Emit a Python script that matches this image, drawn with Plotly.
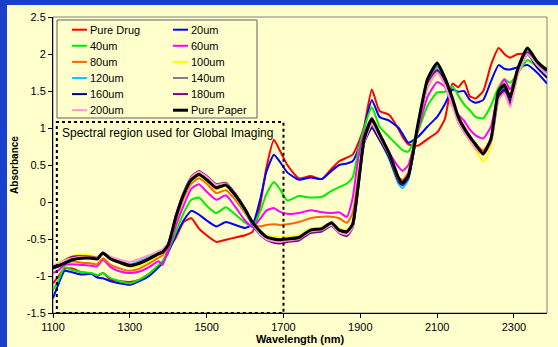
import plotly.graph_objects as go

# ---------------- data ----------------
wavelength = [1100, 1115, 1130, 1150, 1175, 1200, 1215, 1230, 1250, 1275,
              1300, 1325, 1350, 1375, 1385, 1400, 1420, 1440, 1460, 1480,
              1500, 1525, 1550, 1575, 1600, 1620, 1640, 1655, 1675, 1690,
              1710, 1740, 1770, 1800, 1825, 1845, 1865, 1880, 1895, 1910,
              1930, 1950, 1975, 2000, 2010, 2025, 2050, 2075, 2100, 2120,
              2140, 2155, 2170, 2185, 2200, 2220, 2240, 2260, 2275, 2290,
              2310, 2335, 2360, 2386]

pure_drug = [-1.10, -1.00, -0.90, -0.90, -0.95, -0.97, -1.00, -0.96, -1.05, -1.07,
             -1.08, -1.05, -0.97, -0.87, -0.82, -0.65, -0.48, -0.27, -0.22, -0.36,
             -0.45, -0.54, -0.51, -0.48, -0.45, -0.40, -0.02, 0.45, 0.84, 0.70,
             0.50, 0.32, 0.35, 0.31, 0.45, 0.55, 0.60, 0.64, 0.80, 1.02,
             1.52, 1.23, 1.18, 0.98, 0.88, 0.78, 0.76, 0.85, 0.94, 1.12,
             1.60, 1.55, 1.64, 1.43, 1.40, 1.50, 1.85, 2.08, 2.00, 1.95,
             2.00, 2.00, 1.88, 1.80]

um20 = [-1.30, -1.10, -0.93, -0.95, -0.98, -0.97, -1.02, -1.03, -1.07, -1.10,
        -1.12, -1.07, -1.00, -0.88, -0.82, -0.68, -0.45, -0.25, -0.12, -0.17,
        -0.25, -0.33, -0.27, -0.31, -0.35, -0.30, 0.05, 0.40, 0.64, 0.55,
        0.40, 0.30, 0.33, 0.31, 0.42, 0.50, 0.52, 0.55, 0.72, 1.00,
        1.38, 1.15, 1.10, 1.00, 0.92, 0.80, 0.88, 1.02, 1.15, 1.32,
        1.52, 1.49, 1.50, 1.38, 1.34, 1.38, 1.63, 1.85, 1.80, 1.79,
        1.82, 1.85, 1.75, 1.60]

um40 = [-1.19, -1.05, -0.88, -0.92, -0.95, -0.96, -0.99, -0.96, -1.03, -1.07,
        -1.10, -1.05, -0.97, -0.85, -0.80, -0.66, -0.40, -0.15, 0.03, 0.06,
        -0.05, -0.15, -0.07, -0.17, -0.28, -0.33, -0.12, 0.10, 0.27, 0.18,
        0.02, 0.08, 0.06, 0.07, 0.15, 0.20, 0.25, 0.33, 0.70, 1.00,
        1.28, 1.02, 0.88, 0.75, 0.70, 0.68, 0.95, 1.30, 1.48, 1.49,
        1.56, 1.44, 1.32, 1.24, 1.15, 1.13, 1.30, 1.55, 1.66, 1.61,
        1.74, 1.92, 1.83, 1.72]

um60 = [-0.96, -0.92, -0.85, -0.84, -0.85, -0.86, -0.87, -0.78, -0.88, -0.94,
        -0.96, -0.94, -0.88, -0.80, -0.85, -0.65, -0.32, -0.05, 0.18, 0.24,
        0.14, 0.03, 0.09, -0.07, -0.25, -0.34, -0.22, -0.12, -0.08, -0.13,
        -0.16, -0.15, -0.11, -0.14, -0.15, -0.14, -0.20, 0.05, 0.60, 0.92,
        1.14, 0.90, 0.67, 0.47, 0.42, 0.50, 0.97, 1.42, 1.62, 1.56,
        1.30, 1.18, 1.10, 0.98, 0.90, 0.86, 1.02, 1.50, 1.66, 1.52,
        1.80, 2.00, 1.88, 1.74]

um80 = [-0.90, -0.87, -0.82, -0.80, -0.82, -0.83, -0.84, -0.76, -0.85, -0.90,
        -0.93, -0.90, -0.83, -0.75, -0.72, -0.60, -0.25, 0.05, 0.25, 0.32,
        0.25, 0.12, 0.16, 0.03, -0.15, -0.30, -0.33, -0.31, -0.30, -0.31,
        -0.30, -0.27, -0.22, -0.20, -0.20, -0.22, -0.28, -0.15, 0.35, 0.85,
        1.08, 0.90, 0.62, 0.33, 0.30, 0.40, 1.05, 1.55, 1.75, 1.62,
        1.35, 1.15, 1.02, 0.90, 0.78, 0.70, 0.85, 1.50, 1.60, 1.42,
        1.82, 2.03, 1.90, 1.76]

um100 = [-0.87, -0.82, -0.78, -0.73, -0.71, -0.72, -0.74, -0.68, -0.76, -0.83,
         -0.88, -0.86, -0.80, -0.72, -0.69, -0.58, -0.22, 0.08, 0.28, 0.35,
         0.28, 0.17, 0.21, 0.07, -0.12, -0.30, -0.40, -0.45, -0.47, -0.48,
         -0.47, -0.45, -0.36, -0.34, -0.27, -0.36, -0.38, -0.28, 0.30, 0.85,
         1.08, 0.88, 0.63, 0.30, 0.27, 0.38, 1.05, 1.60, 1.80, 1.65,
         1.36, 1.10, 0.95, 0.82, 0.70, 0.55, 0.75, 1.45, 1.55, 1.40,
         1.78, 2.05, 1.88, 1.76]

um120 = [-0.90, -0.86, -0.82, -0.78, -0.75, -0.76, -0.76, -0.70, -0.76, -0.80,
         -0.84, -0.80, -0.74, -0.68, -0.66, -0.56, -0.20, 0.10, 0.30, 0.38,
         0.31, 0.20, 0.23, 0.08, -0.12, -0.32, -0.45, -0.50, -0.53, -0.54,
         -0.52, -0.50, -0.40, -0.38, -0.30, -0.40, -0.44, -0.34, 0.20, 0.80,
         1.02, 0.84, 0.58, 0.24, 0.19, 0.30, 1.00, 1.60, 1.82, 1.64,
         1.36, 1.12, 0.98, 0.86, 0.76, 0.66, 0.84, 1.45, 1.55, 1.38,
         1.78, 2.05, 1.88, 1.75]

um140 = [-0.88, -0.85, -0.80, -0.77, -0.74, -0.75, -0.76, -0.69, -0.76, -0.81,
         -0.85, -0.82, -0.76, -0.69, -0.67, -0.57, -0.20, 0.10, 0.31, 0.39,
         0.32, 0.21, 0.24, 0.10, -0.10, -0.30, -0.43, -0.49, -0.52, -0.53,
         -0.51, -0.49, -0.39, -0.37, -0.29, -0.39, -0.42, -0.32, 0.25, 0.82,
         1.08, 0.90, 0.64, 0.30, 0.25, 0.34, 1.03, 1.62, 1.84, 1.66,
         1.38, 1.13, 0.99, 0.87, 0.77, 0.66, 0.84, 1.47, 1.56, 1.40,
         1.79, 2.06, 1.89, 1.77]

um160 = [-0.90, -0.87, -0.82, -0.78, -0.75, -0.75, -0.76, -0.70, -0.77, -0.82,
         -0.86, -0.83, -0.77, -0.70, -0.68, -0.58, -0.20, 0.11, 0.32, 0.40,
         0.33, 0.22, 0.25, 0.10, -0.10, -0.31, -0.44, -0.50, -0.53, -0.54,
         -0.52, -0.50, -0.40, -0.38, -0.30, -0.40, -0.43, -0.33, 0.22, 0.80,
         1.00, 0.84, 0.60, 0.27, 0.23, 0.33, 1.00, 1.58, 1.78, 1.62,
         1.35, 1.10, 0.97, 0.85, 0.75, 0.66, 0.83, 1.42, 1.52, 1.36,
         1.74, 2.00, 1.82, 1.68]

um180 = [-0.88, -0.84, -0.79, -0.74, -0.73, -0.74, -0.75, -0.69, -0.76, -0.81,
         -0.85, -0.82, -0.76, -0.69, -0.67, -0.57, -0.18, 0.13, 0.34, 0.42,
         0.35, 0.24, 0.26, 0.11, -0.09, -0.30, -0.44, -0.51, -0.55, -0.56,
         -0.54, -0.52, -0.42, -0.40, -0.32, -0.42, -0.46, -0.35, 0.20, 0.80,
         1.04, 0.86, 0.62, 0.28, 0.24, 0.33, 1.00, 1.58, 1.78, 1.60,
         1.32, 1.08, 0.95, 0.84, 0.74, 0.66, 0.82, 1.40, 1.50, 1.32,
         1.75, 2.02, 1.86, 1.72]

um200 = [-0.86, -0.83, -0.79, -0.76, -0.74, -0.75, -0.75, -0.68, -0.74, -0.78,
         -0.81, -0.77, -0.72, -0.66, -0.64, -0.55, -0.18, 0.12, 0.33, 0.41,
         0.34, 0.23, 0.25, 0.10, -0.10, -0.30, -0.44, -0.50, -0.53, -0.54,
         -0.52, -0.50, -0.40, -0.38, -0.31, -0.41, -0.44, -0.34, 0.22, 0.80,
         1.05, 0.88, 0.64, 0.30, 0.27, 0.36, 1.00, 1.56, 1.75, 1.58,
         1.30, 1.08, 0.95, 0.83, 0.72, 0.64, 0.80, 1.38, 1.47, 1.28,
         1.72, 2.00, 1.85, 1.72]

pure_paper = [-0.88, -0.86, -0.83, -0.78, -0.76, -0.76, -0.77, -0.69, -0.77, -0.82,
              -0.86, -0.83, -0.77, -0.70, -0.68, -0.58, -0.20, 0.10, 0.30, 0.37,
              0.30, 0.19, 0.23, 0.09, -0.10, -0.28, -0.40, -0.47, -0.50, -0.51,
              -0.50, -0.48, -0.38, -0.36, -0.28, -0.38, -0.40, -0.30, 0.25, 0.85,
              1.12, 0.92, 0.66, 0.32, 0.26, 0.36, 1.05, 1.66, 1.88, 1.68,
              1.40, 1.15, 1.00, 0.88, 0.78, 0.65, 0.85, 1.50, 1.58, 1.42,
              1.80, 2.08, 1.90, 1.78]

series_names = ["Pure Drug", "20um", "40um", "60um", "80um", "100um", "120um",
                "140um", "160um", "180um", "200um", "Pure Paper"]
series_values = [pure_drug, um20, um40, um60, um80, um100, um120,
                 um140, um160, um180, um200, pure_paper]
series_colors = ["#FF0000", "#0000FF", "#00EE00", "#FF00FF", "#FF6600", "#FFFF00",
                 "#00CCFF", "#808080", "#000080", "#800080", "#FF99CC", "#000000"]

x_ticks = [1100, 1300, 1500, 1700, 1900, 2100, 2300]
y_ticks = [-1.5, -1, -0.5, 0, 0.5, 1, 1.5, 2, 2.5]
y_tick_labels = ["-1.5", "-1", "-0.5", "0", "0.5", "1", "1.5", "2", "2.5"]

region_box = [1110, 1700, -1.5, 1.08]   # spectral region used for global imaging
region_label = "Spectral region used for Global Imaging"

# ---------------- layout constants (pixels) ----------------
W, H = 558, 347
L, R, T, B = 53, 547, 17, 313
FONT = "Arial, 'Liberation Sans', Helvetica, sans-serif"
BLUE = "#1840CC"
CREAM = "#FFFFCC"


def px_x(px):
    return (px - L) / (R - L)


def px_y(py):
    return (B - py) / (B - T)


fig = go.Figure()
for name, vals, col in zip(series_names, series_values, series_colors):
    fig.add_trace(go.Scatter(
        x=wavelength, y=vals, name=name, mode="lines",
        line=dict(color=col, width=3 if name == "Pure Paper" else 2,
                  shape="spline", smoothing=0.5),
        showlegend=False))

shapes = []
annotations = []

# cream panel over blue background
shapes.append(dict(type="rect", xref="paper", yref="paper", layer="below",
                   x0=px_x(7), x1=px_x(W + 2), y0=px_y(H + 2), y1=px_y(5),
                   fillcolor=CREAM, line=dict(width=0)))
# gray plot frame (top/right)
shapes.append(dict(type="rect", xref="paper", yref="paper", layer="below",
                   x0=0, x1=1, y0=0, y1=1, line=dict(color="#808080", width=1)))

# dotted region
shapes.append(dict(type="rect", xref="x", yref="y",
                   x0=region_box[0], x1=region_box[1],
                   y0=region_box[2], y1=region_box[3],
                   line=dict(color="black", width=2, dash="dot")))
annotations.append(dict(x=region_box[0] + 8, y=region_box[3] - 0.15, xref="x", yref="y",
                        text=region_label, showarrow=False, xanchor="left",
                        yanchor="middle", font=dict(family=FONT, size=12, color="black")))

# manual two-column legend
shapes.append(dict(type="rect", xref="paper", yref="paper",
                   x0=px_x(57), x1=px_x(257), y0=px_y(118), y1=px_y(20),
                   fillcolor=CREAM, line=dict(color="#606060", width=1)))
row_y0, row_dy = 29.7, 16.1
for i, (name, col) in enumerate(zip(series_names, series_colors)):
    row, colm = i // 2, i % 2
    yy = px_y(row_y0 + row * row_dy)
    sx0 = 72 if colm == 0 else 173
    shapes.append(dict(type="line", xref="paper", yref="paper",
                       x0=px_x(sx0), x1=px_x(sx0 + 15), y0=yy, y1=yy,
                       line=dict(color=col, width=3 if name == "Pure Paper" else 2)))
    annotations.append(dict(x=px_x(sx0 + 16), y=yy, xref="paper", yref="paper",
                            text=name, showarrow=False, xanchor="left", yanchor="middle",
                            font=dict(family=FONT, size=11, color="black")))

fig.update_layout(
    width=W, height=H,
    margin=dict(l=L, r=W - R, t=T, b=H - B, autoexpand=False),
    paper_bgcolor=BLUE, plot_bgcolor=CREAM,
    shapes=shapes, annotations=annotations,
    font=dict(family=FONT, size=11, color="black"),
    xaxis=dict(range=[1100, 2386], tickmode="array", tickvals=x_ticks,
               ticks="outside", ticklen=4, tickcolor="black", automargin=False,
               showline=True, linecolor="black", linewidth=1,
               showgrid=False, zeroline=False,
               tickfont=dict(family=FONT, size=11, color="black"),
               title=dict(text="<b>Wavelength (nm)</b>", standoff=0,
                          font=dict(family=FONT, size=11, color="black"))),
    yaxis=dict(range=[-1.5, 2.5], tickmode="array", tickvals=y_ticks,
               ticktext=y_tick_labels, automargin=False,
               ticks="outside", ticklen=4, tickcolor="black",
               showline=True, linecolor="black", linewidth=1,
               showgrid=False, zeroline=False,
               tickfont=dict(family=FONT, size=11, color="black"),
               title=dict(text="<b>Absorbance</b>", standoff=6,
                          font=dict(family=FONT, size=10, color="black"))),
)

fig.write_html("out.html")
